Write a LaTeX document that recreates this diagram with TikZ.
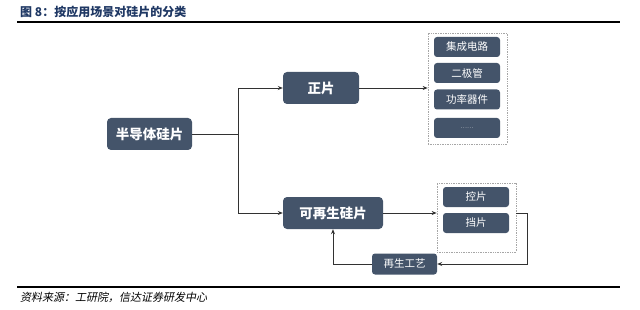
\documentclass[tikz,border=0pt]{standalone}
\usepackage{fontspec}
\newfontfamily\cjk{Noto Sans CJK SC}
\newfontfamily\cjkit[FakeSlant=0.2]{Noto Sans CJK SC}
\usetikzlibrary{arrows.meta}
\definecolor{boxc}{RGB}{68,84,106}
\definecolor{titlec}{RGB}{31,56,100}
\definecolor{linec}{RGB}{50,50,50}
\tikzset{
  bigbox/.style={fill=boxc, rounded corners=4pt, text=white, font=\cjk\bfseries\fontsize{13.5}{14}\selectfont, inner sep=0pt, anchor=center},
  smallbox/.style={fill=boxc, rounded corners=3pt, text=white, font=\cjk\fontsize{10.5}{12}\selectfont, inner sep=0pt, anchor=center},
  dashbox/.style={draw=gray!70, densely dotted, line width=0.7pt, inner sep=0pt, anchor=center},
  arr/.style={draw=linec, line width=0.9pt, -{Stealth[length=5pt,width=4pt]}},
  ln/.style={draw=linec, line width=0.9pt},
  rule/.style={draw=black, line width=1.8pt}
}
\begin{document}
\begin{tikzpicture}[x=1pt,y=-1pt]
\useasboundingbox (0,0) rectangle (640,310);
% title
\node[anchor=west, text=titlec, font=\cjk\bfseries\fontsize{12}{14}\selectfont, inner sep=0pt] (title) at (20,12) {图 8：按应用场景对硅片的分类};
\draw[rule] (17,22) -- (620,22);
\draw[rule] (17,287) -- (620,287);
\node[anchor=west, font=\cjkit\fontsize{11}{13}\selectfont, inner sep=0pt] (foot) at (20,297) {资料来源：工研院，信达证券研发中心};
% main nodes
\node[bigbox, minimum width=85pt, minimum height=32pt] (semi) at (149.5,134) {半导体硅片};
\node[bigbox, minimum width=76pt, minimum height=32pt] (zp) at (321,88) {正片};
\node[bigbox, minimum width=100pt, minimum height=32pt] (kz) at (333,213) {可再生硅片};
% dashed groups
\node[dashbox, minimum width=79pt, minimum height=111pt] (box1) at (467.5,88.5) {};
\node[smallbox, minimum width=66pt, minimum height=20pt] (a1) at (467,47) {集成电路};
\node[smallbox, minimum width=66pt, minimum height=20pt] (a2) at (467,73) {二极管};
\node[smallbox, minimum width=66pt, minimum height=20pt] (a3) at (467,99.5) {功率器件};
\node[smallbox, minimum width=66pt, minimum height=20pt, font=\cjk\fontsize{6}{7}\selectfont, text=white!80!boxc] (a4) at (467,128) {……};
\node[dashbox, minimum width=79pt, minimum height=69pt] (box2) at (476.5,217.5) {};
\node[smallbox, minimum width=66pt, minimum height=20pt] (b1) at (476,197) {控片};
\node[smallbox, minimum width=66pt, minimum height=20pt] (b2) at (476,223) {挡片};
\node[smallbox, minimum width=65pt, minimum height=21pt] (zs) at (404.5,264) {再生工艺};
% connectors
\coordinate (j) at (238,134);
\coordinate (c0) at (527,213);
\coordinate (c1) at (527,264);
\draw[ln] (semi.east) -- (j);
\draw[arr] (j) |- (zp.west);
\draw[arr] (j) |- (kz.west);
\draw[arr] (zp.east) -- (zp.east -| box1.west);
\draw[arr] (kz.east) -- (kz.east -| box2.west);
\draw[arr] (box2.east |- c0) -- (c0) -- (c1) -- (zs.east);
\draw[arr] (zs.west) -| (kz.south);
\end{tikzpicture}
\end{document}
